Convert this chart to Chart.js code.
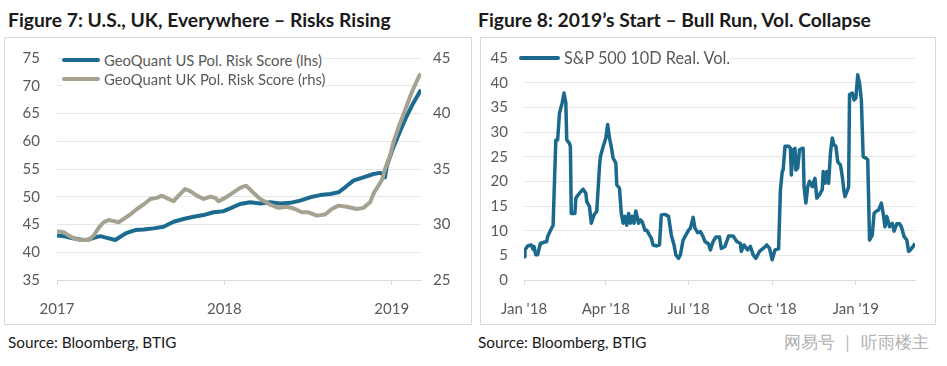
<!DOCTYPE html>
<html>
<head>
<meta charset="utf-8">
<script src="https://cdn.jsdelivr.net/npm/chart.js@4.4.1/dist/chart.umd.min.js"></script>
<style>
  body { margin: 0; width: 947px; height: 366px; background: #fff; position: relative; overflow: hidden; font-family: Lato, "Noto Sans", sans-serif; }
  .title { position: absolute; top: 9px; font-weight: bold; font-size: 19.3px; line-height: 22px; color: #1a1a1a; white-space: nowrap; }
  .box { position: absolute; top: 37px; height: 288px; border: 1px solid #d9d9d9; box-sizing: border-box; }
  .box canvas { position: absolute; left: 0; top: 0; }
  .legend { position: absolute; line-height: 18px; color: #595959; display: flex; align-items: center; white-space: nowrap; background: #fff; }
  .legend i { display: inline-block; height: 4px; border-radius: 2px; margin-right: 4px; }
  .source { position: absolute; top: 333px; font-size: 15.3px; line-height: 18px; color: #1a1a1a; }
  .mark { position: absolute; left: 784px; top: 332px; font-size: 17px; line-height: 20px; color: #b0b0b0; white-space: nowrap; }
</style>
</head>
<body>
<div class="title" style="left:8px">Figure 7: U.S., UK, Everywhere – Risks Rising</div>
<div class="title" style="left:478px">Figure 8: 2019’s Start – Bull Run, Vol. Collapse</div>

<div class="box" style="left:4px; width:468px">
  <canvas id="riskChart" width="466" height="286"></canvas>
</div>
<div class="box" style="left:480px; width:456px">
  <canvas id="volChart" width="454" height="286"></canvas>
</div>

<div class="legend" style="left:62px; top:51px; font-size:14.8px"><i style="width:38px; background:#1c6a8f"></i>GeoQuant US Pol. Risk Score (lhs)</div>
<div class="legend" style="left:62px; top:70px; font-size:14.8px"><i style="width:38px; background:#a5a292"></i>GeoQuant UK Pol. Risk Score (rhs)</div>
<div class="legend" style="left:519px; top:49px; font-size:16.3px"><i style="width:41px; background:#1b6a8e"></i>S&amp;P 500 10D Real. Vol.</div>

<div class="source" style="left:8px">Source: Bloomberg, BTIG</div>
<div class="source" style="left:478px">Source: Bloomberg, BTIG</div>
<div class="mark">网易号 ｜ 听雨楼主</div>

<script>
// Figure 7: months since Jan 2017
const usMonths = [0, 0.48, 0.96, 1.43, 1.91, 2.27, 2.63, 3.1, 3.58, 4.18, 4.54, 5.01, 5.61, 6.21, 6.92, 7.64,
  8.36, 9.07, 9.79, 10.51, 11.22, 11.94, 12.42, 13.13, 13.85, 14.57, 15.28, 16, 16.72, 17.43, 18.15, 18.87,
  19.58, 20.18, 20.66, 21.25, 21.97, 22.69, 23.16, 23.4, 23.52, 23.64, 24.1, 24.6, 25.07, 25.55, 26.1];
const usScore = [43, 42.9, 42.6, 42.4, 42.2, 42.3, 42.6, 42.9, 42.6, 42.2, 42.8, 43.5, 44, 44.1, 44.3, 44.6,
  45.5, 46, 46.4, 46.7, 47.2, 47.4, 47.9, 48.7, 49, 48.8, 49, 48.8, 48.9, 49.3, 49.9, 50.3,
  50.5, 50.8, 51.7, 52.9, 53.5, 54.1, 54.3, 54.1, 53.5, 55.5, 58.8, 61.8, 64.5, 66.9, 69.3];

const ukMonths = [0, 0.48, 0.84, 1.31, 1.79, 2.27, 2.63, 2.99, 3.34, 3.7, 4.06, 4.42, 4.78, 5.25, 5.73, 6.21,
  6.69, 7.16, 7.52, 8, 8.36, 8.72, 9.19, 9.55, 10.03, 10.51, 10.99, 11.34, 11.58, 12.06, 12.54, 13.13,
  13.56, 13.97, 14.57, 15.28, 15.88, 16.48, 17.07, 17.55, 18.03, 18.63, 19.22, 19.7, 20.18, 20.78, 21.49,
  21.97, 22.45, 22.74, 23.05, 23.33, 23.52, 23.88, 24.1, 24.5, 24.96, 25.4, 25.9, 26.08];
const ukScore = [29.4, 29.3, 29, 28.7, 28.6, 28.6, 29, 29.7, 30.2, 30.4, 30.3, 30.2, 30.5, 30.9, 31.4, 31.8,
  32.3, 32.4, 32.6, 32.3, 32.1, 32.6, 33.2, 33, 32.6, 32.3, 32.5, 32.4, 32.1, 32.4, 32.8, 33.3,
  33.5, 33, 32.3, 31.8, 31.5, 31.6, 31.4, 31.1, 31.1, 30.8, 30.9, 31.4, 31.7, 31.6, 31.4,
  31.5, 32, 32.9, 33.5, 34.1, 35, 36.2, 37.3, 38.8, 40.3, 41.8, 43.2, 43.6];

const yearTicks = [0, 12, 24];
const yearLabels = ['2017', '2018', '2019'];

// Figure 8: days since 1 Jan 2018
const volDays = [0, 1, 4, 8, 10, 11, 13, 15, 18, 21, 25, 26, 30, 32, 35, 37, 39, 42, 44, 46, 47, 50, 51, 52,
  56, 57, 61, 65, 68, 69, 72, 74, 77, 80, 83, 84, 87, 90, 92, 94, 96, 98, 101, 102, 105, 107, 109, 111,
  113, 115, 117, 119, 121, 123, 126, 128, 130, 133, 135, 138, 140, 142, 146, 149, 151, 155, 159, 162,
  165, 167, 170, 172, 175, 178, 181, 183, 186, 188, 191, 194, 197, 199, 203, 205, 208, 211, 215, 217,
  221, 225, 230, 234, 238, 239, 242, 246, 249, 252, 255, 259, 263, 267, 270, 273, 276, 280, 282, 284,
  285, 287, 291, 293, 294, 296, 298, 299, 301, 303, 306, 307, 308, 310, 312, 314, 317, 318, 320, 322,
  325, 328, 329, 331, 333, 335, 337, 339, 341, 343, 345, 348, 350, 352, 353, 356, 357, 358, 361, 363,
  365, 367, 369, 371, 373, 376, 378, 380, 383, 385, 387, 390, 393, 395, 397, 399, 402, 405, 407, 410,
  413, 415, 418, 421, 423, 425, 428, 430];
const volValues = [4.7, 6.1, 6.9, 7.1, 6.2, 6.8, 5.1, 5.1, 7.4, 7.6, 7.8, 8.8, 10.4, 11.1, 28.4, 28.4, 33.8, 35.9, 37.9, 35.9, 28.4, 27.7, 27, 13.5,
  13.5, 16.6, 17.6, 18.4, 17.6, 15.9, 14.9, 11.5, 13.2, 13.9, 23, 25, 27, 28.8, 31.5, 28.8, 27, 24.7, 23.7, 19.3, 18.6, 13.5, 11.5, 12.9,
  11.1, 13.5, 11.5, 12.9, 11.5, 14, 11.5, 12.2, 11.8, 10.1, 10.1, 9.1, 8.5, 7.1, 6.9, 7.1, 13.2, 13.3, 12.9, 9.1,
  7.1, 5.1, 4.4, 5.1, 8.1, 9.1, 10.1, 10.5, 12.7, 10.5, 9.6, 9.8, 8.8, 7.8, 7.3, 6.1, 7.8, 8.7, 8.7, 6.4,
  6.8, 8.9, 8.9, 7.8, 7.4, 5.8, 7.1, 6.1, 6.8, 5.1, 4.4, 5.8, 6.4, 7.1, 6.4, 4.1, 6.1, 6.3, 18.3, 22,
  22.3, 27.1, 27.1, 26.7, 21.3, 26.4, 26.7, 22.3, 22.7, 26.4, 26.7, 26.7, 18.9, 15.6, 18.9, 20, 18.9, 19.6, 20.6, 16.6,
  17.3, 18.3, 22, 19.6, 22, 19.6, 25.7, 28.8, 27.4, 27.1, 24, 23.3, 21, 17.9, 16.9, 18.3, 18.9, 37.6, 37.9, 36.5,
  36.9, 41.6, 39.9, 36.5, 25, 24.7, 24.4, 8.1, 9.1, 13.5, 13.9, 14.2, 15.6, 13.5, 10.8, 12.9, 10.8, 11.5, 9.9, 11.4,
  11.4, 10.8, 8.8, 8.1, 5.8, 6.1, 6.8, 7.4];

const quarterTicks = [0, 90, 181, 273, 365];
const quarterLabels = ["Jan '18", "Apr '18", "Jul '18", "Oct '18", "Jan '19"];

const tickFont = { family: 'Lato', size: 15 };
const tickColor = '#595959';
const gridColor = '#e6e6e6';
const axisColor = '#d9d9d9';

function xAxis(max, tickVals, tickLabels) {
  return {
    type: 'linear',
    min: 0,
    max: max,
    afterBuildTicks: (axis) => { axis.ticks = tickVals.map(v => ({ value: v })); },
    afterFit: (scale) => { scale.height = 44; },
    ticks: {
      autoSkip: false,
      maxRotation: 0,
      padding: 15,
      color: tickColor,
      font: tickFont,
      callback: (v) => tickLabels[tickVals.indexOf(v)]
    },
    grid: { drawOnChartArea: false, drawTicks: true, tickLength: 5, color: axisColor },
    border: { display: true, color: axisColor, width: 1 }
  };
}

// fixed width, no label overhang pushing the plot down
function fixY(width) {
  return (scale) => {
    scale.width = width;
    scale.paddingTop = 0;
    scale.paddingBottom = 0;
  };
}

new Chart(document.getElementById('riskChart'), {
  type: 'line',
  data: {
    datasets: [{
      label: 'GeoQuant US Pol. Risk Score (lhs)',
      data: usMonths.map((m, i) => ({ x: m, y: usScore[i] })),
      borderColor: '#1c6a8f',
      borderWidth: 4,
      pointRadius: 0,
      borderJoinStyle: 'round',
      yAxisID: 'y',
      order: 1
    }, {
      label: 'GeoQuant UK Pol. Risk Score (rhs)',
      data: ukMonths.map((m, i) => ({ x: m, y: ukScore[i] })),
      borderColor: '#a5a292',
      borderWidth: 4,
      pointRadius: 0,
      borderJoinStyle: 'round',
      yAxisID: 'y1',
      order: 0
    }]
  },
  options: {
    responsive: false,
    animation: false,
    devicePixelRatio: 1,
    layout: { padding: { top: 20, left: 0, right: 0, bottom: 0 } },
    plugins: { legend: { display: false }, tooltip: { enabled: false } },
    scales: {
      x: xAxis(26.1, yearTicks, yearLabels),
      y: {
        position: 'left',
        min: 35, max: 75,
        afterFit: fixY(52),
        ticks: { stepSize: 5, padding: 17, color: tickColor, font: tickFont },
        grid: { color: gridColor, drawTicks: false },
        border: { display: false }
      },
      y1: {
        position: 'right',
        min: 25, max: 45,
        afterFit: fixY(50),
        ticks: { stepSize: 5, padding: 12, color: tickColor, font: tickFont },
        grid: { drawOnChartArea: false, drawTicks: false },
        border: { display: false }
      }
    }
  }
});

new Chart(document.getElementById('volChart'), {
  type: 'line',
  data: {
    datasets: [{
      label: 'S&P 500 10D Real. Vol.',
      data: volDays.map((d, i) => ({ x: d, y: volValues[i] })),
      borderColor: '#1b6a8e',
      borderWidth: 3.5,
      pointRadius: 0,
      borderJoinStyle: 'round'
    }]
  },
  options: {
    responsive: false,
    animation: false,
    devicePixelRatio: 1,
    layout: { padding: { top: 20, left: 0, right: 20, bottom: 0 } },
    plugins: { legend: { display: false }, tooltip: { enabled: false } },
    scales: {
      x: xAxis(430, quarterTicks, quarterLabels),
      y: {
        min: 0, max: 45,
        afterFit: fixY(43),
        ticks: { stepSize: 5, padding: 16, color: tickColor, font: tickFont },
        grid: { color: gridColor, drawTicks: false },
        border: { display: false }
      }
    }
  }
});
</script>
</body>
</html>
